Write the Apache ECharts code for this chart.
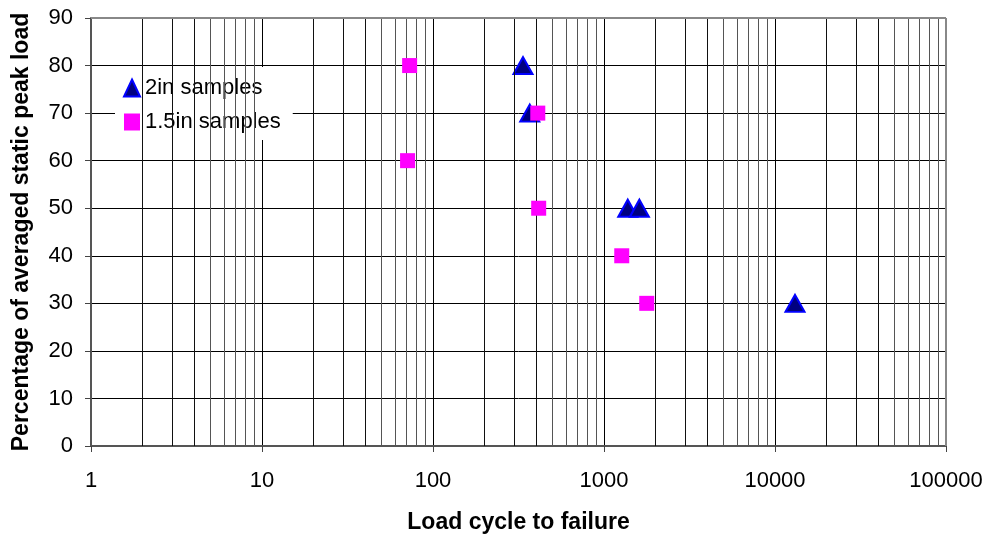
<!DOCTYPE html>
<html>
<head>
<meta charset="utf-8">
<script src="https://cdn.jsdelivr.net/npm/echarts@6/dist/echarts.min.js"></script>
<style>
  html, body { margin: 0; padding: 0; background: #fff; }
  #chart { width: 990px; height: 539px; }
</style>
</head>
<body>
<div id="chart"></div>
<script>
// Fatigue test results: load level vs. cycles to failure
const seriesNames = ['2in samples', '1.5in samples'];
const cycles2in = [336, 368, 1377, 1610, 13090];
const load2in = [80, 70, 50, 50, 30];
const cycles15in = [73, 71, 410, 415, 1270, 1778];
const load15in = [80, 60, 70, 50, 40, 30];
const xTickLabels = ['1', '10', '100', '1000', '10000', '100000'];
const yTicks = [0, 10, 20, 30, 40, 50, 60, 70, 80, 90];

// Minor vertical grid lines at 2..9 of every decade
const minorX = [];
for (let d = 1; d < 100000; d *= 10) {
  for (let k = 2; k <= 9; k++) minorX.push(k * d);
}

const font = 'Liberation Sans, Arial, sans-serif';
const chart = echarts.init(document.getElementById('chart'));

chart.setOption({
  animation: false,
  backgroundColor: '#fff',
  grid: { left: 91, right: 44, top: 18, bottom: 92, show: false },
  legend: {
    orient: 'vertical',
    left: 115,
    top: 67,
    backgroundColor: '#fff',
    padding: [10, 12, 7, 8],
    itemGap: 12,
    itemWidth: 16,
    itemHeight: 17,
    textStyle: { fontFamily: font, fontSize: 22, color: '#000' },
    data: [
      { name: seriesNames[0], icon: 'triangle' },
      { name: seriesNames[1], icon: 'rect' }
    ]
  },
  xAxis: {
    type: 'log',
    logBase: 10,
    min: 1,
    max: 100000,
    name: 'Load cycle to failure',
    nameLocation: 'middle',
    nameGap: 65,
    nameTextStyle: { fontFamily: font, fontSize: 23, fontWeight: 'bold', color: '#000' },
    axisLine: { show: true, lineStyle: { color: '#555', width: 2 } },
    axisTick: { show: true, length: 6, lineStyle: { color: '#444' } },
    axisLabel: {
      fontFamily: font, fontSize: 22, color: '#000', margin: 24,
      formatter: v => xTickLabels[Math.round(Math.log10(v))]
    },
    splitLine: { show: true, lineStyle: { color: '#000', width: 1 } }
  },
  yAxis: {
    type: 'value',
    min: 0,
    max: 90,
    interval: 10,
    name: 'Percentage of averaged static peak load',
    nameLocation: 'middle',
    nameGap: 58,
    nameTextStyle: { fontFamily: font, fontSize: 23, fontWeight: 'bold', color: '#000' },
    axisLine: { show: true, lineStyle: { color: '#555', width: 2 } },
    axisTick: { show: true, length: 6, lineStyle: { color: '#444' } },
    axisLabel: {
      fontFamily: font, fontSize: 22, color: '#000', margin: 18,
      formatter: v => (yTicks.indexOf(v) >= 0 ? String(v) : '')
    },
    splitLine: { show: true, lineStyle: { color: '#000', width: 1 } }
  },
  series: [
    {
      name: seriesNames[0],
      type: 'scatter',
      symbol: 'triangle',
      symbolSize: [19, 17],
      z: 4,
      itemStyle: { color: '#000080', borderColor: '#0000FF', borderWidth: 2, opacity: 1 },
      data: cycles2in.map((c, i) => [c, load2in[i]])
    },
    {
      name: seriesNames[1],
      type: 'scatter',
      symbol: 'rect',
      symbolSize: 15,
      z: 5,
      itemStyle: { color: '#FF00FF', opacity: 1 },
      data: cycles15in.map((c, i) => [c, load15in[i]])
    },
    {
      // minor decade grid lines and the grey plot-area frame
      type: 'scatter',
      data: [],
      silent: true,
      z: 1,
      markLine: {
        silent: true,
        symbol: 'none',
        label: { show: false },
        animation: false,
        data: minorX.map(v => ({ xAxis: v, lineStyle: { color: (String(v)[0] === '2' || String(v)[0] === '3' || String(v)[0] === '4') ? '#111' : '#555', width: 1, type: 'solid' } }))
          .concat([
            { yAxis: 90, lineStyle: { color: '#888', width: 2, type: 'solid' } },
            { xAxis: 100000, lineStyle: { color: '#888', width: 2, type: 'solid' } }
          ])
      }
    }
  ]
});
</script>
</body>
</html>
